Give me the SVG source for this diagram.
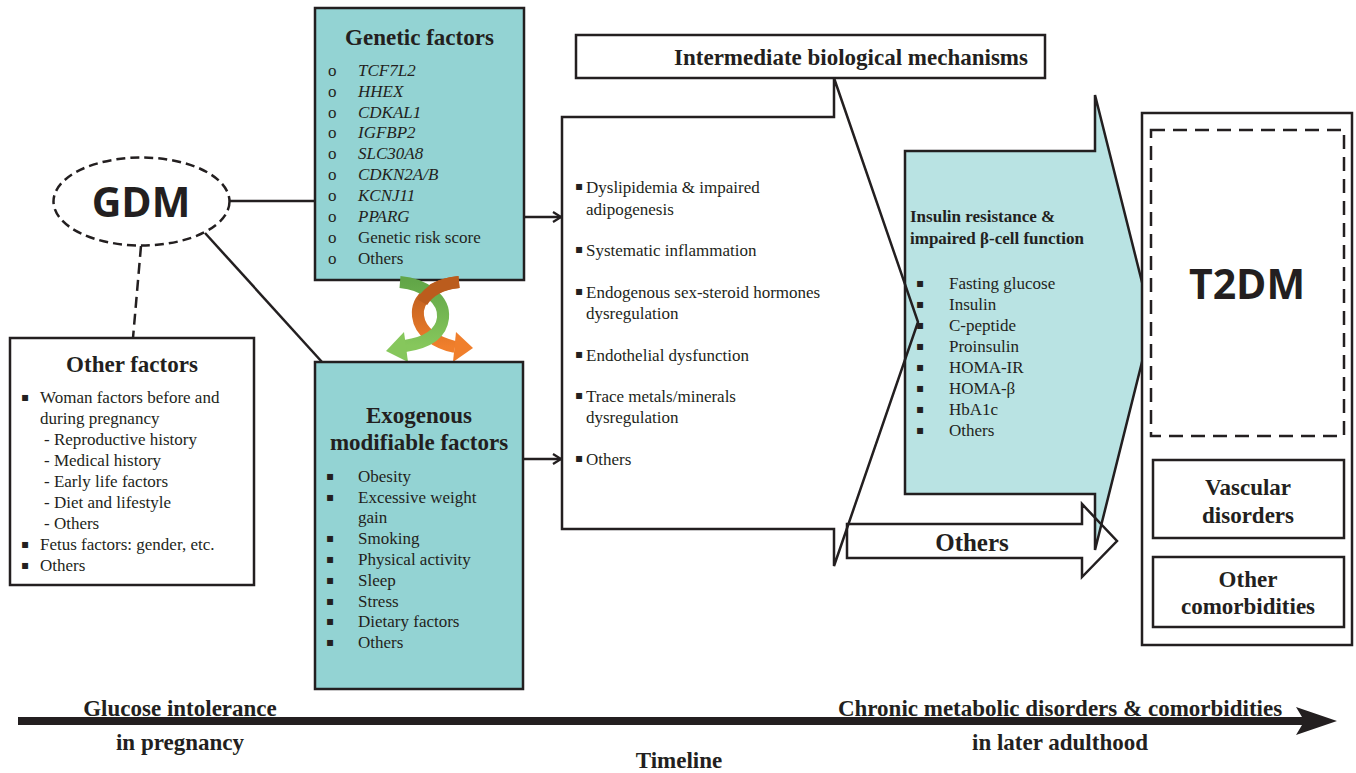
<svg xmlns="http://www.w3.org/2000/svg" width="1356" height="773" viewBox="0 0 1356 773">
<defs>
<style>
.ser{font-family:"Liberation Serif","Times New Roman",serif;fill:#231f20}
.t17{font-size:17px}
.b{font-weight:bold}
.it{font-style:italic}
.ttl{font-size:23px;font-weight:bold;text-anchor:middle}
.sans{font-family:"Open Sans","DejaVu Sans",sans-serif;font-weight:700;fill:#231f20;text-anchor:middle}
.bul{font-family:"DejaVu Sans",sans-serif;font-size:12px;fill:#231f20}
.ln{stroke:#231f20;stroke-width:2.5;fill:none}
.box{stroke:#231f20;stroke-width:2.5}
</style>
<marker id="open" viewBox="0 0 10 12" refX="9" refY="6" markerWidth="10" markerHeight="12" markerUnits="userSpaceOnUse" orient="auto">
<path d="M1,1 L9,6 L1,11" fill="none" stroke="#231f20" stroke-width="2.2"/>
</marker>
<linearGradient id="gg" x1="0" y1="0" x2="0" y2="1">
<stop offset="0" stop-color="#62a648"/><stop offset="1" stop-color="#86c75c"/>
</linearGradient>
<linearGradient id="og" x1="0" y1="0" x2="0" y2="1">
<stop offset="0" stop-color="#b85a1c"/><stop offset="1" stop-color="#f07f2c"/>
</linearGradient>
</defs>
<rect width="1356" height="773" fill="#ffffff"/>

<g id="connectors">
<line class="ln" x1="229" y1="201" x2="315" y2="201"/>
<line class="ln" x1="205" y1="233" x2="322" y2="362"/>
<line class="ln" x1="141" y1="246" x2="133" y2="338" stroke-dasharray="11,6"/>
<line class="ln" x1="524" y1="217" x2="561" y2="217" marker-end="url(#open)"/>
<line class="ln" x1="523" y1="459" x2="561" y2="459" marker-end="url(#open)"/>
</g>

<g id="gdm">
<ellipse cx="141.5" cy="201.5" rx="88" ry="44" fill="#fff" stroke="#231f20" stroke-width="2.5" stroke-dasharray="9,5"/>
<text class="sans" x="141" y="217" font-size="41">GDM</text>
</g>

<g id="other-factors">
<rect class="box" x="10" y="338" width="244" height="247" fill="#fff"/>
<text class="ser ttl" x="132" y="372">Other factors</text>
<g class="ser t17">
<text x="40" y="403">Woman factors before and</text>
<text x="40" y="424">during pregnancy</text>
<text x="44" y="445">- Reproductive history</text>
<text x="44" y="466">- Medical history</text>
<text x="44" y="487">- Early life factors</text>
<text x="44" y="508">- Diet and lifestyle</text>
<text x="44" y="529">- Others</text>
<text x="40" y="550">Fetus factors: gender, etc.</text>
<text x="40" y="571">Others</text>
</g>
<g class="bul" font-size="11">
<text x="21" y="401">▪</text>
<text x="21" y="548">▪</text>
<text x="21" y="569">▪</text>
</g>
</g>

<g id="genetic">
<rect class="box" x="315" y="8" width="209" height="272" fill="#93d3d3"/>
<text class="ser ttl" x="419.5" y="45">Genetic factors</text>
<g class="ser t17">
<text x="328" y="76">o</text><text class="it" x="358" y="76">TCF7L2</text>
<text x="328" y="97">o</text><text class="it" x="358" y="97">HHEX</text>
<text x="328" y="118">o</text><text class="it" x="358" y="118">CDKAL1</text>
<text x="328" y="138">o</text><text class="it" x="358" y="138">IGFBP2</text>
<text x="328" y="159">o</text><text class="it" x="358" y="159">SLC30A8</text>
<text x="328" y="180">o</text><text class="it" x="358" y="180">CDKN2A/B</text>
<text x="328" y="201">o</text><text class="it" x="358" y="201">KCNJ11</text>
<text x="328" y="222">o</text><text class="it" x="358" y="222">PPARG</text>
<text x="328" y="243">o</text><text x="358" y="243">Genetic risk score</text>
<text x="328" y="264">o</text><text x="358" y="264">Others</text>
</g>
</g>

<g id="interaction">
<path d="M459 282 C434 284 416 298 418 316 C420 333 437 343 455 347" fill="none" stroke="url(#og)" stroke-width="12"/>
<polygon points="473,348 456,332 453,362" fill="#f07f2c"/>
<path d="M400 282 C425 284 445 300 443 318 C441 335 425 343 405 346" fill="none" stroke="url(#gg)" stroke-width="12"/>
<polygon points="386,351 404,332 408,362" fill="#86c75c"/>
<path d="M459 282 C440 284 428 292 422 302" fill="none" stroke="#bb5c1d" stroke-width="12"/>
</g>

<g id="exogenous">
<rect class="box" x="315" y="362" width="208" height="327" fill="#93d3d3"/>
<text class="ser ttl" x="419" y="423">Exogenous</text>
<text class="ser ttl" x="419" y="450">modifiable factors</text>
<g class="ser t17">
<text x="358" y="482">Obesity</text>
<text x="358" y="503">Excessive weight</text>
<text x="358" y="523">gain</text>
<text x="358" y="544">Smoking</text>
<text x="358" y="565">Physical activity</text>
<text x="358" y="586">Sleep</text>
<text x="358" y="607">Stress</text>
<text x="358" y="627">Dietary factors</text>
<text x="358" y="648">Others</text>
</g>
<g class="bul">
<text x="326" y="480">▪</text><text x="326" y="501">▪</text><text x="326" y="542">▪</text><text x="326" y="563">▪</text>
<text x="326" y="584">▪</text><text x="326" y="605">▪</text><text x="326" y="625">▪</text><text x="326" y="646">▪</text>
</g>
</g>

<g id="intermediate">
<rect class="box" x="576" y="35" width="469" height="43" fill="#fff"/>
<text class="ser ttl" x="851" y="65">Intermediate biological mechanisms</text>
<path d="M562 117 L834 117 L834 78 L918 322 L834 566 L834 529 L562 529 Z" fill="#fff" stroke="none"/>
</g>

<g id="insulin">
<path class="box" d="M905 151 L1095 151 L1095 95 L1152 322 L1095 550 L1095 494 L905 494 Z" fill="#b9e3e3" stroke-linejoin="miter"/>
<text class="ser b" font-size="17" x="910" y="222">Insulin resistance &amp;</text>
<text class="ser b" font-size="17" x="910" y="244">impaired β-cell function</text>
<g class="ser t17">
<text x="949" y="289">Fasting glucose</text>
<text x="949" y="310">Insulin</text>
<text x="949" y="331">C-peptide</text>
<text x="949" y="352">Proinsulin</text>
<text x="949" y="373">HOMA-IR</text>
<text x="949" y="394">HOMA-β</text>
<text x="949" y="415">HbA1c</text>
<text x="949" y="436">Others</text>
</g>
<g class="bul">
<text x="916" y="287">▪</text><text x="916" y="308">▪</text><text x="916" y="329">▪</text><text x="916" y="350">▪</text>
<text x="916" y="371">▪</text><text x="916" y="392">▪</text><text x="916" y="413">▪</text><text x="916" y="434">▪</text>
</g>
</g>

<g id="mechanisms">
<path class="box" d="M562 117 L834 117 L834 78 L918 322 L834 566 L834 529 L562 529 Z" fill="none" stroke-linejoin="miter"/>
<g class="ser t17">
<text x="586" y="193">Dyslipidemia &amp; impaired</text>
<text x="586" y="215">adipogenesis</text>
<text x="586" y="256">Systematic inflammation</text>
<text x="586" y="298">Endogenous sex-steroid hormones</text>
<text x="586" y="319">dysregulation</text>
<text x="586" y="361">Endothelial dysfunction</text>
<text x="586" y="402">Trace metals/minerals</text>
<text x="586" y="423">dysregulation</text>
<text x="586" y="465">Others</text>
</g>
<g class="bul" font-size="10">
<text x="575" y="190">▪</text><text x="575" y="253">▪</text><text x="575" y="295">▪</text>
<text x="575" y="358">▪</text><text x="575" y="399">▪</text><text x="575" y="462">▪</text>
</g>
</g>

<g id="others-arrow">
<path class="box" d="M847 524 L1082 524 L1082 504 L1117 541 L1082 577 L1082 558 L847 558 Z" fill="none"/>
<text class="ser b" font-size="25" x="972" y="551" text-anchor="middle">Others</text>
</g>

<g id="outcomes">
<rect class="box" x="1142" y="113" width="210" height="532" fill="#fff"/>
<rect x="1151" y="130" width="193" height="306" fill="none" stroke="#231f20" stroke-width="2.5" stroke-dasharray="14,8"/>
<text class="sans" x="1247" y="299" font-size="41">T2DM</text>
<rect class="box" x="1153" y="460" width="191" height="78" fill="#fff"/>
<text class="ser ttl" x="1248" y="495">Vascular</text>
<text class="ser ttl" x="1248" y="523">disorders</text>
<rect class="box" x="1153" y="557" width="191" height="70" fill="#fff"/>
<text class="ser ttl" x="1248" y="587">Other</text>
<text class="ser ttl" x="1248" y="614">comorbidities</text>
</g>

<g id="timeline">
<path d="M18 717 L1302 717 L1296 707 L1337 721 L1296 735 L1302 725 L18 725 Z" fill="#231f20"/>
<text class="ser ttl" x="180" y="716">Glucose intolerance</text>
<text class="ser ttl" x="180" y="750">in pregnancy</text>
<text class="ser ttl" x="1060" y="716">Chronic metabolic disorders &amp; comorbidities</text>
<text class="ser ttl" x="1060" y="750">in later adulthood</text>
<text class="ser ttl" x="679" y="768" font-size="25">Timeline</text>
</g>
</svg>
